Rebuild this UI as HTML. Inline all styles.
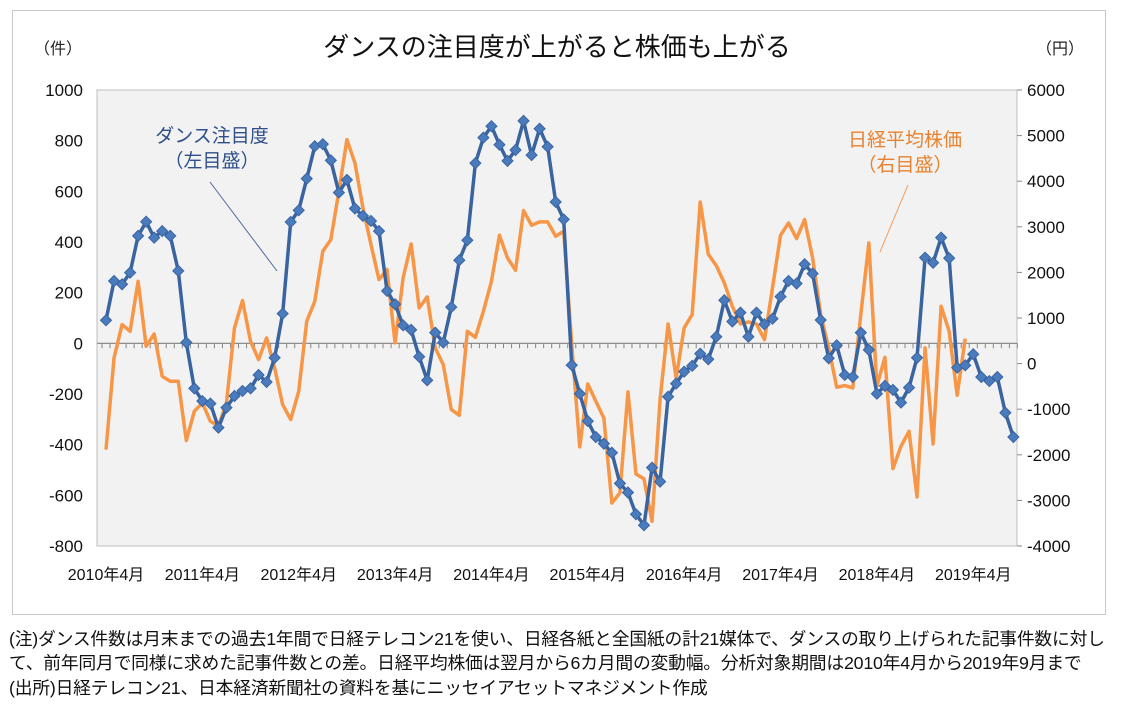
<!DOCTYPE html>
<html><head><meta charset="utf-8">
<style>
body{margin:0;background:#fff;width:1121px;height:705px;overflow:hidden;font-family:"Liberation Sans","Noto Sans CJK JP",sans-serif;}
.note{position:absolute;left:9px;font-size:17.8px;color:#111;white-space:nowrap;letter-spacing:-0.2px;}
</style></head><body>
<svg width="1121" height="705" style="position:absolute;left:0;top:0" font-family="Liberation Sans, Noto Sans CJK JP, sans-serif">
<rect x="12.5" y="10.5" width="1093" height="604" fill="#fff" stroke="#c8c8c8"/>
<rect x="97" y="90" width="920" height="456" fill="#f2f2f2" stroke="#bfbfbf"/>
<text x="557" y="56" font-size="26" text-anchor="middle" fill="#111">ダンスの注目度が上がると株価も上がる</text>
<text x="58" y="54" font-size="16" text-anchor="middle" fill="#222">（件）</text>
<text x="1060" y="54" font-size="16" text-anchor="middle" fill="#222">（円）</text>
<g id="axes"></g>
<g id="series"></g>
<text x="212" y="142" font-size="19" text-anchor="middle" fill="#2f4f8a">ダンス注目度</text>
<text x="212" y="167" font-size="19" text-anchor="middle" fill="#2f4f8a">（左目盛）</text>
<line x1="210" y1="182" x2="277" y2="271" stroke="#4a6a9a" stroke-width="1"/>
<text x="905" y="146" font-size="19" text-anchor="middle" fill="#e8822e">日経平均株価</text>
<text x="905" y="171" font-size="19" text-anchor="middle" fill="#e8822e">（右目盛）</text>
<line x1="908" y1="185" x2="880" y2="252" stroke="#f0a060" stroke-width="1"/>
</svg>
<div class="note" style="top:625px">(注)ダンス件数は月末までの過去1年間で日経テレコン21を使い、日経各紙と全国紙の計21媒体で、ダンスの取り上げられた記事件数に対し</div>
<div class="note" style="top:649px">て、前年同月で同様に求めた記事件数との差。日経平均株価は翌月から6カ月間の変動幅。分析対象期間は2010年4月から2019年9月まで</div>
<div class="note" style="top:674px">(出所)日経テレコン21、日本経済新聞社の資料を基にニッセイアセットマネジメント作成</div>
<script>
const leftTicks=[1000,800,600,400,200,0,-200,-400,-600,-800];
const rightTicks=[6000,5000,4000,3000,2000,1000,0,-1000,-2000,-3000,-4000];
const xLabels=["2010年4月","2011年4月","2012年4月","2013年4月","2014年4月","2015年4月","2016年4月","2017年4月","2018年4月","2019年4月"];
const dance=[91,246,233,279,424,480,417,443,424,286,3,-178,-228,-238,-333,-254,-208,-188,-178,-125,-153,-57,117,479,525,650,778,786,722,595,645,532,503,483,443,207,154,71,53,
-53,-146,42,3,143,328,407,711,812,857,784,720,763,878,743,847,776,558,489,-86,-199,-307,-370,-396,-432,-553,-589,-675,-718,-491,-546,-211,-159,-112,-89,-41,-63,26,
170,86,121,26,121,75,97,184,246,236,312,275,92,-59,-8,-125,-133,42,-26,-199,-168,-184,-234,-175,-57,338,318,417,336,-96,-87,-43,-133,-149,-133,-274,-370];
const nikkei=[-1886,124,855,709,1805,380,650,-278,-387,-387,-1688,-1045,-862,-1265,-1374,-862,782,1382,490,88,563,-95,-899,-1228,-607,928,1367,2463,2719,3779,4912,4400,3414,2610,1842,2061,453,1879,2624,
1221,1462,344,-22,-1009,-1133,709,577,1148,1805,2814,2317,2047,3355,3034,3107,3107,2792,2902,417,-1827,-446,-826,-1192,-3056,-2836,-621,-2420,-2529,-3458,-789,870,-314,782,1075,3545,2400,2150,
1769,1257,870,914,870,526,1659,2814,3085,2741,3158,2317,1075,344,-519,-482,-534,1075,2646,-497,139,-2303,-1813,-1484,-2924,344,-1762,1257,709,-694,548];
const NS="http://www.w3.org/2000/svg";
const yL=v=>343.3-(v)*0.25333;
const yR=v=>363.6-(v)*0.0456;
const xM=i=>106+i*8.03;
const axes=document.getElementById('axes'),ser=document.getElementById('series');
function mk(tag,attrs,parent){const e=document.createElementNS(NS,tag);for(const k in attrs)e.setAttribute(k,attrs[k]);parent.appendChild(e);return e;}
leftTicks.forEach(v=>{
 const t=mk('text',{x:83,y:yL(v)+6,'font-size':17,'text-anchor':'end',fill:'#111'},axes);t.textContent=v;
 
 
});
rightTicks.forEach(v=>{
 const t=mk('text',{x:1027,y:yR(v)+6,'font-size':17,'text-anchor':'start',fill:'#111'},axes);t.textContent=v;
 
 
 const l=mk('line',{x1:1017,x2:1022,y1:yR(v),y2:yR(v),stroke:'#888'},axes);
 
 
});
xLabels.forEach((s,k)=>{
 const t=mk('text',{x:xM(k*12),y:580,'font-size':16,'text-anchor':'middle',fill:'#111'},axes);t.textContent=s;
 
 
});
const z=mk('line',{x1:97,x2:1017,y1:yL(0),y2:yL(0),stroke:'#808080','stroke-width':1.2},axes);


for(let i=0;i<=114;i++){const x=xM(i)-4;const l=mk('line',{x1:x,x2:x,y1:yL(0),y2:yL(0)+5,stroke:'#888'},axes);
 
 }
const pn=mk('polyline',{points:nikkei.map((v,i)=>xM(i)+','+yR(v)).join(' '),fill:'none',stroke:'#f79646','stroke-width':3.5,'stroke-linejoin':'round'},ser);


const pd=mk('polyline',{points:dance.map((v,i)=>xM(i)+','+yL(v)).join(' '),fill:'none',stroke:'#3a64a0','stroke-width':3.5,'stroke-linejoin':'round'},ser);


dance.forEach((v,i)=>{const x=xM(i),y=yL(v);
 const m=mk('polygon',{points:`${x},${y-5.5} ${x+5.5},${y} ${x},${y+5.5} ${x-5.5},${y}`,fill:'#4a7bbd',stroke:'#3a64a0','stroke-width':1},ser);
 
 
});
</script>
</body></html>
